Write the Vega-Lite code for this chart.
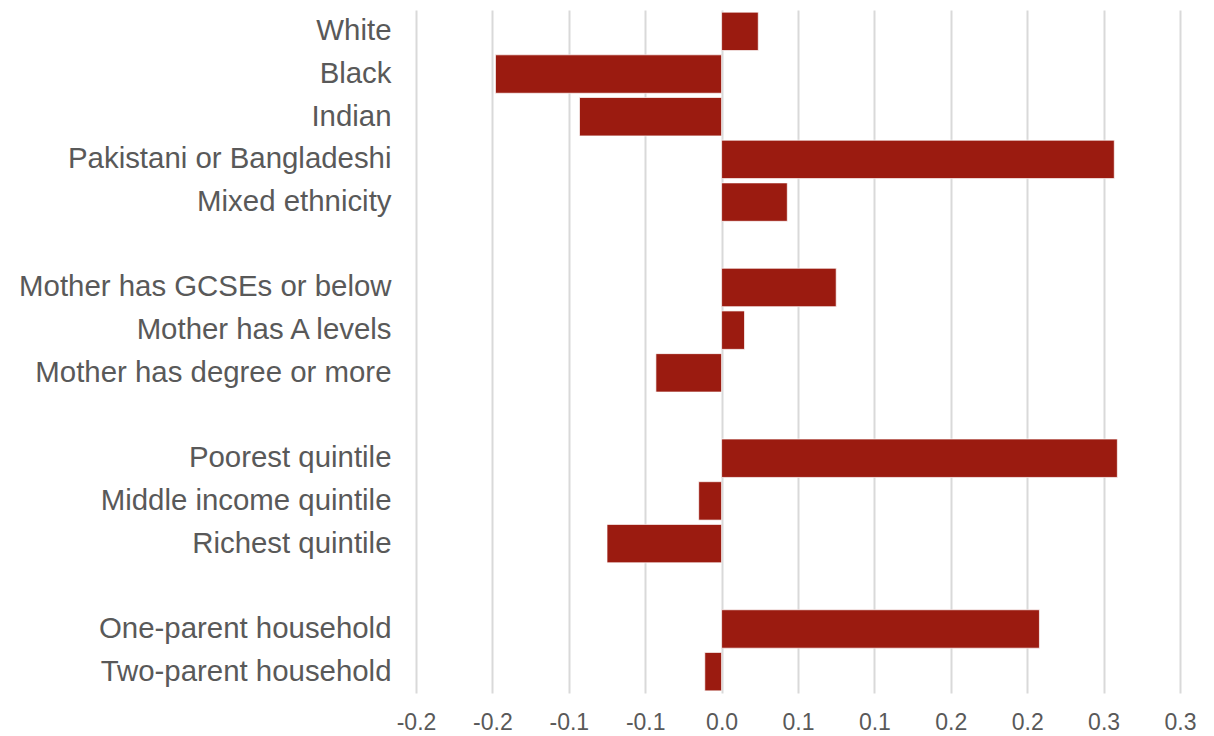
{
  "$schema": "https://vega.github.io/schema/vega-lite/v6.json",
  "autosize": "none",
  "width": 764,
  "height": 683,
  "padding": {"left": 416, "top": 10, "right": 34, "bottom": 43},
  "background": "#ffffff",
  "config": {"view": {"stroke": null}, "font": "Liberation Sans, Arial, sans-serif"},
  "data": {
    "values": [
      {"group": "White", "value": 0.024},
      {"group": "Black", "value": -0.148},
      {"group": "Indian", "value": -0.093},
      {"group": "Pakistani or Bangladeshi", "value": 0.257},
      {"group": "Mixed ethnicity", "value": 0.043},
      {"group": "Mother has GCSEs or below", "value": 0.075},
      {"group": "Mother has A levels", "value": 0.015},
      {"group": "Mother has degree or more", "value": -0.043},
      {"group": "Poorest quintile", "value": 0.259},
      {"group": "Middle income quintile", "value": -0.015},
      {"group": "Richest quintile", "value": -0.075},
      {"group": "One-parent household", "value": 0.208},
      {"group": "Two-parent household", "value": -0.011}
    ]
  },
  "mark": {"type": "bar", "color": "#9b1b10", "stroke": "#ffffff", "strokeWidth": 1, "strokeOpacity": 0.7},
  "encoding": {
    "y": {
      "field": "group",
      "type": "nominal",
      "title": null,
      "scale": {
        "domain": ["White", "Black", "Indian", "Pakistani or Bangladeshi", "Mixed ethnicity", "_1",
                   "Mother has GCSEs or below", "Mother has A levels", "Mother has degree or more", "_2",
                   "Poorest quintile", "Middle income quintile", "Richest quintile", "_3",
                   "One-parent household", "Two-parent household"],
        "paddingInner": 0.1,
        "paddingOuter": 0.05
      },
      "axis": {
        "domain": false,
        "ticks": false,
        "grid": false,
        "labelFont": "Liberation Sans, Arial, sans-serif",
        "labelFontSize": 29.4,
        "labelColor": "#595959",
        "labelPadding": 25,
        "labelLimit": 600,
        "labelExpr": "indexof(datum.value, '_') == 0 ? '' : datum.value"
      }
    },
    "x": {
      "field": "value",
      "type": "quantitative",
      "title": null,
      "scale": {"domain": [-0.2, 0.3], "nice": false, "zero": false},
      "axis": {
        "values": [-0.2, -0.15, -0.1, -0.05, 0, 0.05, 0.1, 0.15, 0.2, 0.25, 0.3],
        "domain": false,
        "ticks": false,
        "grid": true,
        "gridColor": "#d9d9d9",
        "gridWidth": 2,
        "labelFont": "Liberation Sans, Arial, sans-serif",
        "labelFontSize": 23,
        "labelColor": "#595959",
        "labelPadding": 18,
        "labelFlush": false,
        "labelExpr": "replace(format((datum.value < 0 ? -1 : 1) * floor(abs(datum.value) * 10 + 0.5 + 1e-9) / 10, '.1f'), '\u2212', '-')"
      }
    }
  }
}
